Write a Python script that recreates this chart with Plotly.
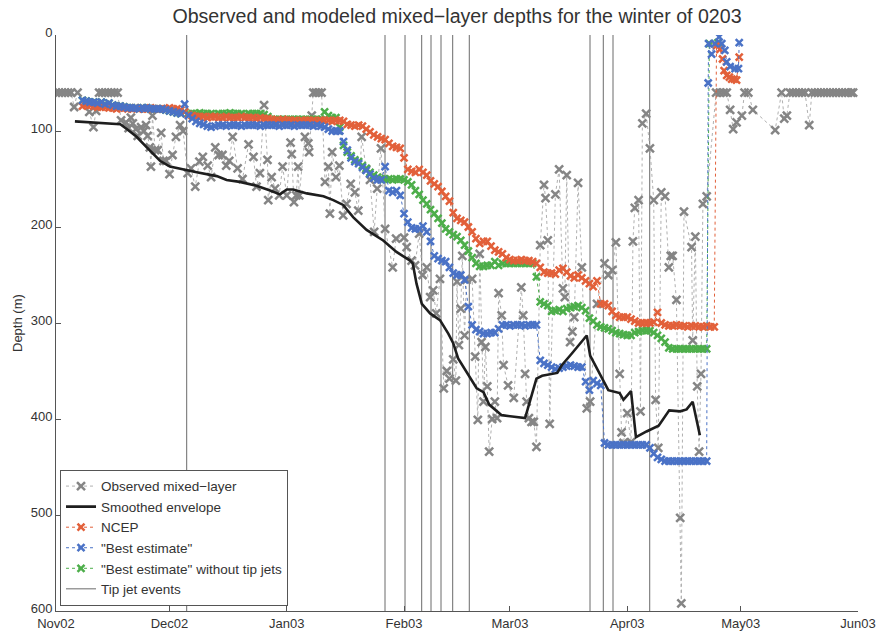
import pandas as pd
import plotly.graph_objects as go

START = pd.Timestamp("2002-11-01")

# ---- observed mixed-layer depth (day since 1 Nov 2002, depth in m) ----
obs_day = [0, 0.8, 1.6, 2.4, 3.2, 4.0, 4.8, 5.7, 8.8, 9.9, 10.6, 11.4, 12.2, 13.0, 13.8, 14.6, 15.4, 16.3,
           17.2, 18.5, 19.2, 19.8, 20.3, 21.1, 21.6, 22.5, 23.2, 23.8, 24.2, 24.8, 25.1, 25.5, 26.2, 26.9,
           27.8, 28.4, 29.1, 30.0, 30.8, 31.7, 32.8, 33.6, 34.8, 35.7, 36.8, 37.9, 38.8, 40.1, 41.0, 42.1,
           43.0, 44.0, 45.0, 45.8, 46.7, 48.0, 49.3, 50.9, 52.2, 53.0, 53.9, 55.0, 55.9, 56.1, 57.0, 57.9,
           59.0, 59.9, 61.0, 62.0, 62.3, 62.9, 63.5, 64.0, 64.3, 65.8, 66.7, 66.9, 67.6, 68.0, 68.7, 69.4,
           70.2, 71.1, 72.0, 72.4, 73.0, 74.0, 74.9, 75.9, 76.8, 77.9, 79.0, 79.9, 80.8, 82.0, 83.0, 84.1,
           84.9, 85.9, 87.0, 89.0, 89.9, 92.0, 92.7, 94.0, 94.9, 96.0, 96.9, 98.0, 98.9, 99.7, 100.5, 101.5,
           102.5, 103.3, 104.0, 105.0, 105.7, 106.0, 106.5, 107.0, 107.4, 108.0, 108.5, 110.0, 110.8, 111.5,
           112.0, 112.5, 113.0, 113.5, 114.0, 114.5, 115.3, 116.0, 116.6, 117.0, 117.8, 118.3, 119.5, 121.0,
           123.0, 123.5, 124.0, 124.4, 125.0, 125.7, 126.3, 127.0, 128.0, 129.0, 129.4, 130.0, 130.5, 132.0,
           133.0, 134.0, 134.5, 135.0, 135.9, 136.5, 137.0, 138.0, 139.0, 140.3, 141.2, 143.0, 145.0, 146.0,
           147.0, 148.0, 149.0, 149.5, 150.0, 151.0, 152.0, 152.5, 153.0, 154.0, 154.5, 155.0, 156.0, 157.0,
           158.0, 158.5, 159.2, 160.0, 161.0, 162.0, 162.5, 163.0, 164.0, 165.0, 165.3, 166.0, 168.0, 168.3,
           169.0, 169.5, 170.0, 170.5, 171.0, 172.0, 174.5, 175.5, 176.5, 177.3, 178.2, 179.0, 179.9, 181.3,
           182.0, 183.0, 184.2, 190.1, 191.8, 192.5, 193.2, 194.0, 194.8, 195.6, 196.4, 197.2, 198.0, 199.1,
           199.8, 200.6, 201.4, 202.2, 203.0, 203.8, 204.6, 205.4, 206.2, 207.0, 207.8, 208.6, 209.4, 210.2,
           210.7]
obs_depth = [60, 60, 60, 60, 60, 60, 75, 60, 80, 96, 79, 60, 60, 60, 60, 60, 60, 60,
             89, 91, 97, 86, 92, 98, 105, 96, 100, 94, 105, 117, 137, 84, 120, 120,
             102, 131, 131, 145, 125, 106, 94, 100, 144, 139, 158, 132, 127, 136, 148, 117,
             125, 125, 136, 131, 106, 139, 150, 114, 127, 158, 144, 73, 130, 172, 148, 160,
             167, 137, 167, 112, 124, 174, 167, 137, 167, 106, 113, 122, 84, 60, 60, 60,
             60, 153, 137, 186, 122, 148, 136, 188, 176, 155, 164, 183, 106, 140, 151, 205,
             160, 118, 202, 242, 212, 211, 221, 235, 240, 207, 250, 242, 273, 266, 290, 254,
             368, 350, 358, 338, 360, 257, 323, 285, 230, 313, 255, 254, 335, 401,
             228, 320, 382, 325, 366, 434, 400, 382, 399, 269, 292, 344, 365, 378,
             263, 292, 353, 382, 399, 403, 403, 429, 219, 156, 170, 214, 405, 166,
             140, 264, 273, 146, 320, 309, 294, 154, 242, 389, 382, 280, 238, 250,
             245, 216, 353, 414, 425, 394, 424, 215, 180, 172, 392, 92, 82, 118,
             172, 380, 430, 164, 168, 242, 230, 230, 276, 503, 592, 184, 221, 318,
             210, 366, 434, 353, 176, 168, 60, 60, 60, 60, 78, 98, 91, 84,
             60, 60, 78, 99, 60, 87, 84, 60, 60, 60, 60, 60, 60, 94,
             60, 60, 60, 60, 60, 60, 60, 60, 60, 60, 60, 60, 60, 60,
             60]

# ---- smoothed envelope ----
env_day = [5, 17, 18.7, 21.3, 24, 27.5, 30.1, 34.5, 37.2, 42.5, 45.1, 48.6, 53, 56.6, 59.2, 61, 62.7,
           66.3, 70.7, 73.3, 75.9, 78.6, 82.1, 86.5, 90, 93.6, 94.3, 95.3, 96.7, 98.9, 101.5, 103.7,
           105, 106.3, 108.6, 111.2, 113, 114.5, 117.8, 124, 127, 128.5, 132.5, 133.7, 136.3, 140.3,
           141.2, 144.2, 146, 149, 150, 152, 153.3, 156.1, 159.3, 162.1, 165, 166.7, 168.3, 170.2]
env_depth = [90, 93, 98, 106, 117, 131, 137, 141, 143, 147, 151, 153, 157, 162, 166, 161, 161,
             165, 168, 172, 177, 190, 203, 214, 226, 235, 238, 259, 280, 290, 297, 311,
             321, 337, 351, 368, 372, 385, 396, 399, 358, 355, 352, 344, 332, 313,
             334, 356, 370, 373, 380, 371, 419, 413, 407, 391, 392, 390, 382, 417]

# ---- NCEP-forced model: daily values from day 7, then the spring surface values ----
ncep_first_day = 7
ncep_depth = [74, 73, 73, 74, 75, 75, 75,
              76, 76, 77, 76, 76, 77, 77, 76, 77, 77, 77, 76, 77, 77, 77, 77, 76, 77, 77, 78,
              80, 83,
              84, 85, 85, 85, 86, 85, 85, 86, 86, 85, 86, 86, 86, 85, 86,
              86, 86, 87, 86, 87, 87, 88,
              89, 89, 88, 89, 89, 89, 90, 89, 89, 89, 89, 90, 89, 89, 89, 90, 89, 89, 90,
              93, 94, 95, 94, 95, 98, 101, 104, 106, 108, 109, 113, 116, 117, 118, 128, 140, 142, 143, 140,
              143, 146, 152, 155, 158, 163, 168, 173, 185, 191, 193, 195, 200, 205, 212, 217, 215, 215,
              220, 224, 226, 228, 232, 234, 235, 235, 234, 235, 235, 236, 238, 242, 247, 248, 248, 249,
              245, 243, 247, 251, 253, 250, 253, 256, 259, 262, 256, 280, 280, 282, 288, 292, 294, 294,
              294, 296, 298, 300, 300, 300, 300, 299, 289, 300,
              302, 303, 303, 302, 303, 303, 304, 303, 303, 304, 304, 303, 304, 304]
ncep_tail_day = [174.6, 175.5, 176.2, 176.6, 177.3, 178.0, 178.6, 179.3, 179.9, 180.6]
ncep_tail_depth = [11, 15, 25, 37, 42, 44, 46, 46, 47, 23]

# ---- "Best estimate" model ----
best_first_day = 7
best_depth = [68, 69, 70, 70, 71, 70, 72, 71, 73, 74, 74,
              75, 76, 76, 76, 77, 76, 76, 77, 77,
              77, 77, 78, 79, 80, 81, 82, 72, 84, 87, 90, 92, 93, 95, 96, 95,
              94, 94, 95, 94, 94, 94, 95, 94, 94, 94, 94, 95, 94, 94, 94, 94, 95, 94, 94, 94, 95, 94, 94,
              94, 94, 95, 94,
              95, 96, 98, 100, 100, 100, 111, 120, 128, 132, 134, 138, 141, 145, 149, 151, 151, 137, 162,
              164, 162, 167, 186, 195, 201, 202, 202, 199, 205, 215, 230, 233, 235, 236, 242, 248, 250,
              250, 255, 283, 302, 307, 309, 311, 311, 310, 310, 306,
              302, 302, 303, 302, 302, 302, 303, 302, 302, 302,
              339, 342, 344, 346, 348, 347, 346, 345, 344, 345, 346, 346, 361, 370, 360, 363, 365, 425,
              427, 427, 427, 427, 427, 427, 427, 427, 427, 427, 427, 430, 436, 440, 442,
              444, 444, 444, 444, 444, 444, 444, 444, 444, 444, 444, 444]
best_tail_day = [172.4, 172.5, 173.3, 174.2, 175.3, 176.0, 176.8, 177.3, 178.2, 179.5, 180.4, 180.6]
best_tail_depth = [50, 9, 20, 9, 2, 9, 16, 28, 33, 35, 35, 8]

# ---- "Best estimate" without tip jets ----
notip_first_day = 7
notip_depth = [68, 69, 70, 70, 71, 70, 72, 71, 73, 74, 74,
               75, 76, 76, 76, 77, 76, 76, 77, 77,
               77, 77, 78, 79, 80, 81, 82, 80, 82,
               82, 82, 81, 82, 82, 82, 83, 82, 82, 82, 81, 82, 82, 82, 83, 82, 82, 82, 82, 83,
               85, 88, 88, 88, 88, 88, 88, 88, 88, 88, 88, 88, 88, 88, 88,
               80, 84, 86, 86, 96, 115, 122, 126, 130, 132, 136, 139, 143, 146, 148, 150, 150, 150, 151,
               150, 150, 151, 153, 156, 162, 166, 172, 176, 182, 186, 191, 196, 202, 205, 208, 210, 214,
               219, 225, 232, 238, 241, 241, 240, 240, 236, 240,
               238, 238, 238, 238, 238, 238, 238, 238, 238,
               252, 278, 280, 282, 288, 287, 286, 288, 285, 284, 283, 282, 284, 287, 295, 298, 302, 304,
               305, 306, 308, 310, 311, 312, 313, 313, 310, 309, 308, 308, 308, 310, 313, 316, 320, 326,
               327, 327, 327, 327, 327, 327, 327, 327, 327, 327]
notip_tail_day = [172.7, 175.0]
notip_tail_depth = [9, 8]

# ---- tip jet events (day since 1 Nov 2002) ----
tipjet_day = [34.55, 86.97, 92.26, 96.67, 99.13, 101.77, 104.86, 109.25, 141.16, 144.67, 147.24, 156.94]

# ---- axis ticks ----
month_ticks = ["2002-11-01", "2002-12-01", "2003-01-01", "2003-02-01", "2003-03-01",
               "2003-04-01", "2003-05-01", "2003-06-01"]
month_labels = ["Nov02", "Dec02", "Jan03", "Feb03", "Mar03", "Apr03", "May03", "Jun03"]
depth_ticks = [0, 100, 200, 300, 400, 500, 600]

GRAY = "#858585"
RED = "#E2603A"
BLUE = "#4A72C6"
GREEN = "#4DAE4A"
FONT = "Liberation Sans, Arial, Helvetica, sans-serif"


def to_dates(days):
    return START + pd.to_timedelta(days, unit="D")


def daily(first, values):
    return [first + i for i in range(len(values))]


def model_trace(name, color, days, depths, rank):
    return go.Scatter(
        x=to_dates(days), y=depths, name=name, mode="lines+markers",
        line=dict(color=color, width=1, dash="dot"),
        marker=dict(symbol="x-thin", size=7, color=color, line=dict(width=2.5, color=color)),
        legendrank=rank,
    )


fig = go.Figure()

# tip jet events: full-height vertical lines
tx, ty = [], []
for d in tipjet_day:
    t = START + pd.Timedelta(days=d)
    tx += [t, t, None]
    ty += [0, 600, None]
fig.add_trace(go.Scatter(x=tx, y=ty, mode="lines", name="Tip jet events",
                         line=dict(color="#6a6a6a", width=1), legendrank=6))

fig.add_trace(go.Scatter(
    x=to_dates(obs_day), y=obs_depth, name="Observed mixed\u2212layer", mode="lines+markers",
    line=dict(color="#b0b0b0", width=1, dash="dot"),
    marker=dict(symbol="x-thin", size=8, color=GRAY, line=dict(width=2.5, color=GRAY)),
    legendrank=1,
))

fig.add_trace(model_trace('"Best estimate" without tip jets', GREEN,
                          daily(notip_first_day, notip_depth) + notip_tail_day,
                          notip_depth + notip_tail_depth, 5))
fig.add_trace(model_trace("NCEP", RED,
                          daily(ncep_first_day, ncep_depth) + ncep_tail_day,
                          ncep_depth + ncep_tail_depth, 3))
fig.add_trace(model_trace('"Best estimate"', BLUE,
                          daily(best_first_day, best_depth) + best_tail_day,
                          best_depth + best_tail_depth, 4))

fig.add_trace(go.Scatter(x=to_dates(env_day), y=env_depth, name="Smoothed envelope", mode="lines",
                         line=dict(color="#1e1e1e", width=2.6), legendrank=2))

fig.update_layout(
    width=877, height=631,
    margin=dict(l=56, r=19, t=35, b=20),
    paper_bgcolor="white", plot_bgcolor="white",
    font=dict(family=FONT, size=13, color="#333333"),
    title=dict(text="Observed and modeled mixed\u2212layer depths for the winter of 0203",
               x=0.5, xref="paper", xanchor="center", y=0.974, yanchor="middle",
               font=dict(size=19.6, color="#333333")),
    showlegend=True,
    legend=dict(x=0.005, y=0.009, xanchor="left", yanchor="bottom",
                bgcolor="white", bordercolor="#555555", borderwidth=1,
                font=dict(size=13.5, color="#333333"), tracegroupgap=0,
                itemwidth=30),
)

fig.update_xaxes(
    type="date", range=[month_ticks[0], month_ticks[-1]],
    tickvals=month_ticks, ticktext=month_labels,
    ticks="inside", ticklen=5, tickcolor="#555555",
    showline=True, linecolor="#555555", linewidth=1,
    showgrid=False, zeroline=False, automargin=False,
)
fig.update_yaxes(
    range=[600, 0], tickvals=depth_ticks,
    ticks="inside", ticklen=5, tickcolor="#555555",
    showline=True, linecolor="#555555", linewidth=1,
    showgrid=False, zeroline=False, automargin=False,
    ticklabelshift=3,
)

fig.add_annotation(text="Depth (m)", xref="paper", yref="paper",
                   x=(17 - 56) / 802, y=0.5, xanchor="center", yanchor="middle",
                   textangle=-90, showarrow=False,
                   font=dict(size=13, color="#333333"))

fig.write_html("out.html")
